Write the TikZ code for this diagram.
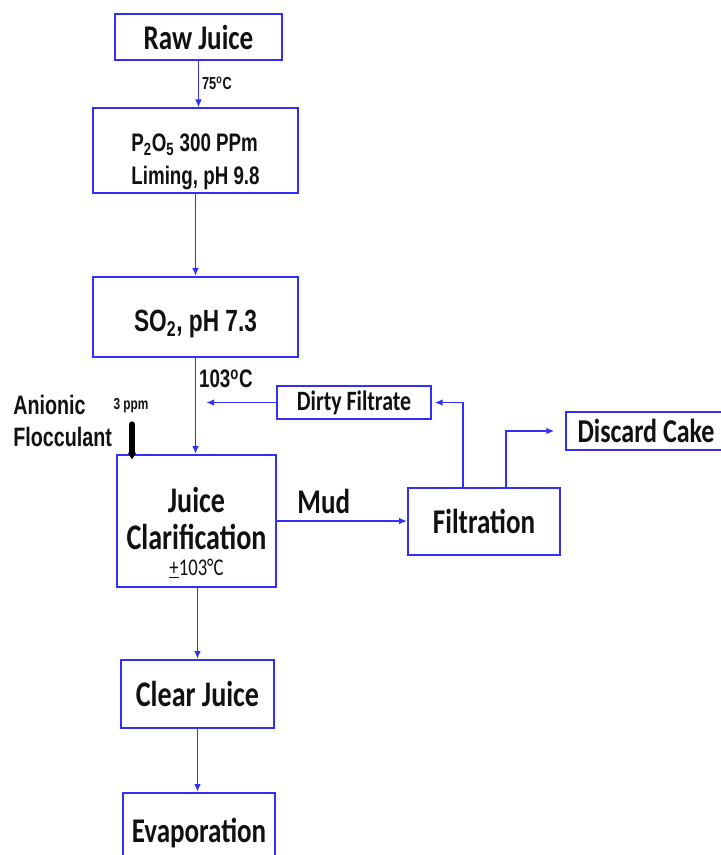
\documentclass[tikz,border=0pt]{standalone}
\usepackage{fontspec}
\setmainfont{Liberation Sans}
\newfontfamily\boxfont{Carlito}[FakeStretch=0.78]
\newfontfamily\narrowfont{Liberation Sans}[FakeStretch=0.74]
\usepackage{xcolor}
\definecolor{flowBlue}{HTML}{3030FA}
\definecolor{flowInk}{HTML}{111111}
\usetikzlibrary{arrows.meta}

\begin{document}
\begin{tikzpicture}[
    x=0.75pt, y=-0.75pt,
    stepbox/.style={draw=flowBlue, line width=1.5pt, fill=white, rectangle, align=center, inner sep=2pt, font=\boxfont\bfseries\fontsize{26}{30}\selectfont, text=flowInk},
    chembox/.style={stepbox, align=left, font=\narrowfont\bfseries\fontsize{19}{25}\selectfont},
    tag/.style={font=\narrowfont\bfseries\fontsize{13}{15}\selectfont, text=flowInk, inner sep=0pt},
    arrow/.style={-{Latex[length=6pt,width=5pt]}, line width=1.4pt, draw=flowBlue},
    dose/.style={-{Triangle[length=5pt,width=6pt]}, line width=4pt, line cap=round, draw=black}
]
\useasboundingbox (0,0) rectangle (720,855);

% main line
\node (raw) [stepbox, minimum width=125.25pt, minimum height=34.5pt] at (198.5,37) {Raw Juice};
\node (lime) [chembox, minimum width=153.75pt, minimum height=59.25pt] at (195.5,150.5) {\rule{0pt}{30pt}P\textsubscript{2}O\textsubscript{5} 300 PPm\\Liming, pH 9.8};
\node (sulf) [chembox, minimum width=153.75pt, minimum height=60pt, font=\narrowfont\bfseries\fontsize{23}{25}\selectfont] at (195.5,317) {\rule{0pt}{26pt}SO\textsubscript{2}, pH 7.3};
\node (clar) [stepbox, minimum width=119.25pt, minimum height=99pt, font=\boxfont\bfseries\fontsize{27}{28}\selectfont] at (196.5,521) {\rule{0pt}{36pt}Juice\\Clarification\\[-9pt]{\mdseries\fontsize{18}{18}\selectfont\underline{+}103°C}};
\node (clear) [stepbox, minimum width=114.75pt, minimum height=51pt, font=\boxfont\bfseries\fontsize{27}{30}\selectfont] at (197.5,694) {Clear Juice};
\node (evap) [stepbox, minimum width=114pt, minimum height=60pt] at (199,833) {Evaporation};

% mud loop
\node (filt) [stepbox, minimum width=114pt, minimum height=50.25pt] at (484,521.5) {Filtration};
\node (dirty) [stepbox, minimum width=115.5pt, minimum height=24.75pt, font=\boxfont\bfseries\fontsize{21}{22}\selectfont] at (354,402.5) {Dirty Filtrate};
\node (cake) [stepbox, minimum width=120pt, minimum height=28.5pt, font=\boxfont\bfseries\fontsize{25}{26}\selectfont] at (646,431) {Discard Cake};

\node (floc) [tag, anchor=north west, align=left, font=\narrowfont\bfseries\fontsize{20}{24}\selectfont] at (13,395) {Anionic\\Flocculant};
\node (ppm) [tag, font=\narrowfont\bfseries\fontsize{12}{12}\selectfont] at (131,406) {3 ppm};
\coordinate (dosetop) at (132,424);
\coordinate (filtL) at (463,488);
\coordinate (filtR) at (506,488);

\draw [arrow] (raw.south) -- (raw.south |- lime.north) node[tag, pos=0.48, right=2pt] {75\textsuperscript{o}C};
\draw [arrow] (lime) -- (sulf);
\draw [arrow] (sulf.south) -- (sulf.south |- clar.north) node[tag, pos=0.22, right=2pt, font=\narrowfont\bfseries\fontsize{19}{20}\selectfont] {103\textsuperscript{o}C};
\draw [arrow] (clear.north |- clar.south) -- (clear.north);
\draw [arrow] (clear.south) -- (clear.south |- evap.north);

\draw [arrow] (clar.east) -- (clar.east -| filt.west) node[pos=0.36, above=5pt, inner sep=0pt, font=\boxfont\bfseries\fontsize{26}{26}\selectfont, text=flowInk] {Mud};
\draw [arrow, shorten >=2pt] (filtL) |- (dirty.east);
\draw [arrow, shorten >=8pt] (filtR) |- (cake.west);
\draw [arrow, shorten >=8pt] (dirty.west) -- (dirty.west -| sulf.south);

\draw [dose, shorten >=-4pt] (dosetop) -- (dosetop |- clar.north);

\end{tikzpicture}
\end{document}
